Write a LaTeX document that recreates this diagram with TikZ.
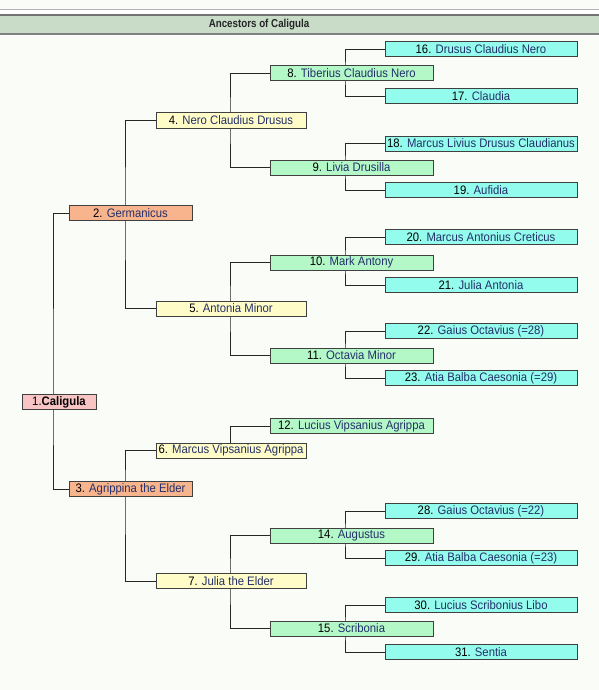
\documentclass[tikz,border=0pt]{standalone}
\usepackage{fontspec}
\setmainfont{Liberation Sans}[FakeStretch=0.92]
\usetikzlibrary{backgrounds}
\definecolor{bgc}{HTML}{FAFCF7}
\definecolor{hdr}{HTML}{C8DCC8}
\definecolor{cA}{HTML}{F8C4C4}
\definecolor{cB}{HTML}{F8B48C}
\definecolor{cC}{HTML}{FFFCC8}
\definecolor{cD}{HTML}{B4F8C8}
\definecolor{cE}{HTML}{94FCEC}
\definecolor{nmc}{HTML}{23306A}
\definecolor{edge}{HTML}{404040}
\newcommand\nm[1]{\textcolor{nmc}{#1}}
\tikzset{
  pbox/.style={draw=edge, line width=1pt, inner sep=0pt, minimum height=15pt,
    font=\fontsize{12.3}{14}\selectfont, text=black},
  g1/.style={pbox, fill=cA, minimum width=74pt},
  g2/.style={pbox, fill=cB, minimum width=123pt},
  g3/.style={pbox, fill=cC, minimum width=150pt},
  g4/.style={pbox, fill=cD, minimum width=163pt},
  g5/.style={pbox, fill=cE, minimum width=192pt},
  link/.style={draw=black!85, line width=0.9pt},
}
\begin{document}
\begin{tikzpicture}[x=1pt,y=-1pt]
\useasboundingbox (0,0) rectangle (599,690);
% header
\fill[hdr] (0,15) rectangle (599,34);
\draw[color=black!30, line width=1.2pt] (0,9.5) -- (599,9.5);
\draw[color=black!55, line width=1.2pt] (0,15) -- (599,15);
\draw[color=black!50, line width=1.2pt] (0,34) -- (599,34);
\node[font=\fontsize{11.5}{13}\selectfont\bfseries\addfontfeatures{FakeStretch=0.85}, text=black!85] (title) at (259,25) {Ancestors of Caligula};

% generation 1
\node[g1] (n1) at (59,402) {1.\textbf{Caligula}};
% generation 2
\node[g2] (n2) at (130.5,213) {2. \nm{Germanicus}};
\node[g2] (n3) at (130.5,489) {3. \nm{Agrippina the Elder}};
% generation 3
\node[g3] (n4) at (231,120.5) {4. \nm{Nero Claudius Drusus}};
\node[g3] (n5) at (231,308.5) {5. \nm{Antonia Minor}};
\node[g3] (n6) at (231,450.5) {6. \nm{Marcus Vipsanius Agrippa}};
\node[g3] (n7) at (231,581) {7. \nm{Julia the Elder}};
% generation 4
\node[g4] (n8) at (351.5,73.5) {8. \nm{Tiberius Claudius Nero}};
\node[g4] (n9) at (351.5,167.5) {9. \nm{Livia Drusilla}};
\node[g4] (n10) at (351.5,262.5) {10. \nm{Mark Antony}};
\node[g4] (n11) at (351.5,355.5) {11. \nm{Octavia Minor}};
\node[g4] (n12) at (351.5,426) {12. \nm{Lucius Vipsanius Agrippa}};
\node[g4] (n14) at (351.5,535.5) {14. \nm{Augustus}};
\node[g4] (n15) at (351.5,628.5) {15. \nm{Scribonia}};
% generation 5
\node[g5] (n16) at (481,49.5) {16. \nm{Drusus Claudius Nero}};
\node[g5] (n17) at (481,96.5) {17. \nm{Claudia}};
\node[g5] (n18) at (481,143.5) {18. \nm{Marcus Livius Drusus Claudianus}};
\node[g5] (n19) at (481,190) {19. \nm{Aufidia}};
\node[g5] (n20) at (481,237) {20. \nm{Marcus Antonius Creticus}};
\node[g5] (n21) at (481,285) {21. \nm{Julia Antonia}};
\node[g5] (n22) at (481,331) {22. \nm{Gaius Octavius (=28)}};
\node[g5] (n23) at (481,378) {23. \nm{Atia Balba Caesonia (=29)}};
\node[g5] (n28) at (481,511) {28. \nm{Gaius Octavius (=22)}};
\node[g5] (n29) at (481,558) {29. \nm{Atia Balba Caesonia (=23)}};
\node[g5] (n30) at (481,605) {30. \nm{Lucius Scribonius Libo}};
\node[g5] (n31) at (481,652) {31. \nm{Sentia}};

% junction coordinates
\coordinate (j1) at (53,402);
\coordinate (j2) at (125,213);
\coordinate (j3) at (125,489);
\coordinate (j4) at (230,120.5);
\coordinate (j5) at (230,308.5);
\coordinate (j6) at (230,450.5);
\coordinate (j7) at (230,581);
\coordinate (j8) at (345,73.5);
\coordinate (j9) at (345,167.5);
\coordinate (j10) at (345,262.5);
\coordinate (j11) at (345,355.5);
\coordinate (j14) at (345,535.5);
\coordinate (j15) at (345,628.5);

\begin{scope}[on background layer]
\fill[bgc] (0,0) rectangle (599,690);
\fill[white] (0,10.5) rectangle (599,14);
\path[link] (n2.west) -| (j1) |- (n3.west);
\path[link] (n4.west) -| (j2) |- (n5.west);
\path[link] (n6.west) -| (j3) |- (n7.west);
\path[link] (n8.west) -| (j4) |- (n9.west);
\path[link] (n10.west) -| (j5) |- (n11.west);
\path[link] (n12.west) -| (j6);
\path[link] (n14.west) -| (j7) |- (n15.west);
\path[link] (n16.west) -| (j8) |- (n17.west);
\path[link] (n18.west) -| (j9) |- (n19.west);
\path[link] (n20.west) -| (j10) |- (n21.west);
\path[link] (n22.west) -| (j11) |- (n23.west);
\path[link] (n28.west) -| (j14) |- (n29.west);
\path[link] (n30.west) -| (j15) |- (n31.west);
\end{scope}
\end{tikzpicture}
\end{document}
